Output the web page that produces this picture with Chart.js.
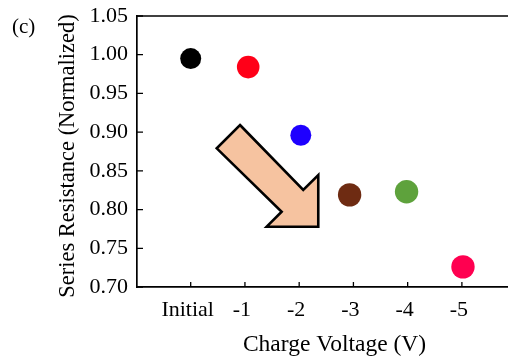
<!DOCTYPE html>
<html>
<head>
<meta charset="utf-8">
<script src="https://cdn.jsdelivr.net/npm/chart.js@4.4.1/dist/chart.umd.min.js"></script>
<style>
  html, body { margin: 0; padding: 0; background: #ffffff; }
  canvas { display: block; }
</style>
</head>
<body>
<canvas id="c" width="508" height="357"></canvas>
<script>
// ---- data ----
const categories = ['Initial', '-1', '-2', '-3', '-4', '-5'];
const xPositions = [0, 1.06, 2.03, 2.93, 3.98, 5.02];
const resistance = [0.995, 0.984, 0.896, 0.819, 0.823, 0.726];
const pointColors = ['#000000', '#ff0018', '#1e00ff', '#6e2b12', '#5ea23c', '#ff0050'];
const pointRadii = [10.5, 11.3, 10.5, 11.7, 11.7, 11.7];
const yTicks = [0.70, 0.75, 0.80, 0.85, 0.90, 0.95, 1.00, 1.05];
const xTitle = 'Charge Voltage (V)';
const yTitle = 'Series Resistance (Normalized)';
const panelLabel = '(c)';
// arrow outline in data units (x = category index, y = normalized resistance)
const arrowX = [0.909, 2.075, 2.352, 2.352, 1.401, 1.677, 0.480];
const arrowY = [0.9092, 0.8253, 0.8446, 0.7779, 0.7779, 0.7972, 0.8791];

const FONT = "'Liberation Serif', 'Times New Roman', serif";

const decorPlugin = {
  id: 'decor',
  afterDatasetsDraw(chart) {
    const ctx = chart.ctx;
    const xs = chart.scales.x, ys = chart.scales.y;
    ctx.save();
    ctx.beginPath();
    arrowX.forEach((v, i) => {
      const px = xs.getPixelForValue(v), py = ys.getPixelForValue(arrowY[i]);
      if (i === 0) ctx.moveTo(px, py); else ctx.lineTo(px, py);
    });
    ctx.closePath();
    ctx.fillStyle = '#f6c3a0';
    ctx.fill();
    ctx.lineWidth = 2.6;
    ctx.lineJoin = 'miter';
    ctx.strokeStyle = '#000000';
    ctx.stroke();
    ctx.restore();
  },
  afterDraw(chart) {
    const ctx = chart.ctx;
    const a = chart.chartArea;
    const xs = chart.scales.x, ys = chart.scales.y;
    ctx.save();
    ctx.strokeStyle = '#000000';
    ctx.lineWidth = 1.7;
    ctx.beginPath();
    ctx.moveTo(a.left, a.top);
    ctx.lineTo(chart.width, a.top);
    ctx.stroke();
    ctx.lineWidth = 1.3;
    ctx.beginPath();
    categories.forEach((c, i) => {
      const px = xs.getPixelForValue(i);
      ctx.moveTo(px, a.bottom);
      ctx.lineTo(px, a.bottom - 5);
    });
    yTicks.forEach(v => {
      const py = ys.getPixelForValue(v);
      ctx.moveTo(a.left, py);
      ctx.lineTo(a.left + 6, py);
    });
    ctx.stroke();
    ctx.fillStyle = '#000000';
    // panel label
    ctx.font = "21px " + FONT;
    ctx.textAlign = 'left';
    ctx.textBaseline = 'alphabetic';
    ctx.fillText(panelLabel, 12, 32.5);
    // x axis title
    ctx.font = "23.5px " + FONT;
    ctx.textAlign = 'center';
    ctx.fillText(xTitle, 334.5, 351);
    // y axis title
    ctx.translate(74, 156);
    ctx.rotate(-Math.PI / 2);
    ctx.font = "22.5px " + FONT;
    ctx.fillText(yTitle, 0, 0);
    ctx.restore();
  }
};

function noPad(scale) {
  scale.paddingTop = 0; scale.paddingBottom = 0;
  scale.paddingLeft = 0; scale.paddingRight = 0;
}

new Chart(document.getElementById('c'), {
  type: 'scatter',
  data: {
    datasets: [{
      data: xPositions.map((x, i) => ({ x: x, y: resistance[i] })),
      pointBackgroundColor: pointColors,
      pointBorderWidth: 0,
      pointBorderColor: pointColors,
      pointRadius: pointRadii,
      pointHoverRadius: pointRadii,
      showLine: false,
      clip: false
    }]
  },
  options: {
    responsive: false,
    animation: false,
    devicePixelRatio: 1,
    layout: { autoPadding: false, padding: { top: 16, right: 0, left: 0, bottom: 0 } },
    plugins: { legend: { display: false }, tooltip: { enabled: false } },
    scales: {
      x: {
        type: 'linear',
        min: -0.99,
        max: 5.85,
        grid: { display: false, drawTicks: false },
        border: { display: true, color: '#000000', width: 1.7 },
        afterBuildTicks(scale) { scale.ticks = categories.map((c, i) => ({ value: i })); },
        afterFit(scale) { scale.height = 70; noPad(scale); },
        ticks: {
          autoSkip: false,
          maxRotation: 0,
          padding: 10,
          labelOffset: -3,
          color: '#000000',
          font: { family: FONT, size: 22 },
          callback: (v) => categories[v]
        },
        title: { display: false }
      },
      y: {
        min: 0.70,
        max: 1.05,
        grid: { display: false, drawTicks: false },
        border: { display: true, color: '#000000', width: 1.7 },
        afterBuildTicks(scale) { scale.ticks = yTicks.map(v => ({ value: v })); },
        afterFit(scale) { scale.width = 137; noPad(scale); },
        ticks: {
          padding: 9,
          color: '#000000',
          font: { family: FONT, size: 22 },
          callback: (v) => Number(v).toFixed(2)
        },
        title: { display: false }
      }
    }
  },
  plugins: [decorPlugin]
});
</script>
</body>
</html>
